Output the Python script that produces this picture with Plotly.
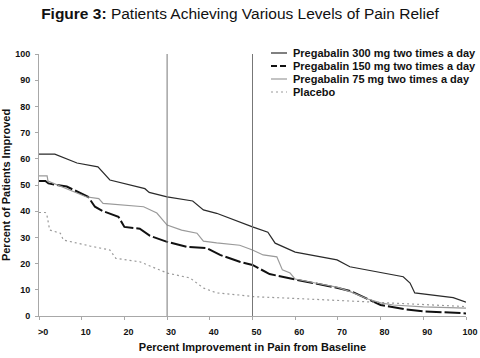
import plotly.graph_objects as go

# ---- data ----
series_names = [
    "Pregabalin 300 mg two times a day",
    "Pregabalin 150 mg two times a day",
    "Pregabalin 75 mg two times a day",
    "Placebo",
]

x_300 = [0, 3.7, 8.9, 13.8, 16.6, 24.8, 25.8, 30, 36, 38.5, 41.6, 47, 50, 53.6, 55.3, 60, 69.8, 72.8, 85.3, 86.9, 88, 97, 100]
y_300 = [61.8, 61.8, 58.4, 56.9, 51.9, 48.6, 47.2, 45.5, 43.9, 40.5, 39.2, 35.8, 34, 32, 27.8, 24.4, 21.4, 18.8, 15, 12.6, 8.8, 7, 5.3]

x_150 = [0, 1.5, 2.2, 6.5, 11.5, 13.1, 15, 18.6, 20, 23.6, 26, 30, 34.6, 39.3, 42.4, 47, 50, 54, 59.5, 65, 70, 73, 77.5, 80, 86, 90, 100]
y_150 = [51.5, 51.5, 50.6, 49.4, 45.5, 41.7, 40, 37.9, 34, 33.3, 30.6, 28.3, 26.4, 25.9, 23.3, 20.7, 19.5, 16, 14.1, 12.4, 10.7, 9.5, 6.1, 4.2, 2.5, 1.8, 1]

x_75 = [0, 1.9, 2.1, 6.5, 10, 11, 14, 15, 24.5, 27.6, 30, 33.4, 37, 38.5, 41.6, 47, 50, 52.5, 55.7, 57, 58.8, 60, 65, 70, 73, 77, 80, 83, 90, 100]
y_75 = [53.5, 53.5, 51.5, 48.4, 46.2, 45.5, 44.8, 43, 41.7, 39.3, 34.7, 32.8, 31.6, 28.6, 27.9, 27, 25.2, 23.3, 22.6, 17.6, 16.4, 14.1, 12.5, 10.9, 9.2, 6.5, 5, 4.2, 3.5, 3]

x_pbo = [0, 1.5, 1.8, 2.5, 5, 5.7, 12, 16.6, 18, 23.6, 30, 35.4, 38.5, 41.6, 47, 50, 62.7, 78, 100]
y_pbo = [39.5, 39.5, 39, 32.8, 31.6, 29, 26.7, 25.2, 22, 20.7, 16.4, 14.5, 10.7, 8.8, 8, 7.4, 6.5, 5.4, 3.6]

reference_lines = [30, 50]

x_tick_vals = [0, 10, 20, 30, 40, 50, 60, 70, 80, 90, 100]
x_tick_text = [">0", "10", "20", "30", "40", "50", "60", "70", "80", "90", "100"]
y_tick_vals = [0, 10, 20, 30, 40, 50, 60, 70, 80, 90, 100]

# ---- styles ----
styles = [
    dict(color="#2a2a2a", width=1.2, dash="solid"),
    dict(color="#111111", width=2.0, dash="16px,3px"),
    dict(color="#9a9a9a", width=1.2, dash="solid"),
    dict(color="#9a9a9a", width=1.2, dash="2px,3px"),
]
legend_dash = ["solid", "6px,3px", "solid", "2px,3px"]

xs = [x_300, x_150, x_75, x_pbo]
ys = [y_300, y_150, y_75, y_pbo]

fig = go.Figure()
for name, x, y, st in zip(series_names, xs, ys, styles):
    fig.add_trace(go.Scatter(x=x, y=y, mode="lines", name=name, line=st,
                             showlegend=False, hoverinfo="skip"))

for xv in reference_lines:
    fig.add_vline(x=xv, line=dict(color="#777777", width=1))

base_font = "Liberation Sans, Arial, sans-serif"

# manual compact legend
L, R, T, B = 39, 14, 54, 42
W, H = 480, 358
pw, ph = W - L - R, H - T - B
row_px = [53, 66, 79, 92]
for name, st, dsh, py in zip(series_names, styles, legend_dash, row_px):
    yp = (H - B - py) / ph
    fig.add_shape(type="line", xref="paper", yref="paper",
                  x0=(271 - L) / pw, x1=(287 - L) / pw, y0=yp, y1=yp,
                  line=dict(color=st["color"], width=st["width"], dash=dsh))
    fig.add_annotation(text="<b>" + name + "</b>", xref="paper", yref="paper",
                       x=(291 - L) / pw, y=yp, xanchor="left", yanchor="middle",
                       showarrow=False, font=dict(family=base_font, size=11, color="#111"))

fig.update_layout(
    width=W, height=H,
    margin=dict(l=L, r=R, t=T, b=B, autoexpand=False),
    paper_bgcolor="white", plot_bgcolor="white",
    title=dict(text="<b>Figure 3:</b> Patients Achieving Various Levels of Pain Relief",
               x=0.5, xanchor="center", y=1 - 14 / H, yanchor="middle", yref="container",
               font=dict(family=base_font, size=15.5, color="#111")),
    font=dict(family=base_font, color="#111"),
    showlegend=False,
)

fig.update_xaxes(
    range=[0, 100], tickvals=x_tick_vals, ticktext=x_tick_text,
    showgrid=False, zeroline=False, showline=True, linecolor="#a8a8a8", linewidth=1,
    ticks="outside", ticklen=3, tickcolor="#a8a8a8",
    tickfont=dict(family=base_font, size=9, color="#111", weight="bold"),
    ticklabelstandoff=4, ticklabelshift=4,
    title=dict(text="<b>Percent Improvement in Pain from Baseline</b>", standoff=7,
               font=dict(family=base_font, size=11, color="#111")),
    automargin=False,
)
fig.update_yaxes(
    range=[0, 100], tickvals=y_tick_vals,
    showgrid=False, zeroline=False, showline=True, linecolor="#a8a8a8", linewidth=1,
    ticks="outside", ticklen=3, tickcolor="#a8a8a8",
    tickfont=dict(family=base_font, size=9, color="#111", weight="bold"),
    ticklabelstandoff=3,
    title=dict(text="<b>Percent of Patients Improved</b>", standoff=3,
               font=dict(family=base_font, size=11, color="#111")),
    automargin=False,
)

fig.write_html("out.html", config={"displayModeBar": False},
               post_script="document.body.style.margin='0';document.body.style.padding='0';")
